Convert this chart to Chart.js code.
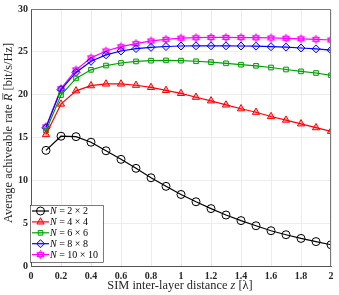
<!DOCTYPE html>
<html>
<head>
<meta charset="utf-8">
<script src="https://cdn.jsdelivr.net/npm/chart.js@4.4.0/dist/chart.umd.min.js"></script>
<style>
  html, body { margin: 0; padding: 0; background: #fff; }
  #wrap { width: 339px; height: 295px; }
</style>
</head>
<body>
<div id="wrap"><canvas id="chartRate"></canvas></div>
<script>
// layer distance z [lambda]
var zValues = [0.1, 0.2, 0.3, 0.4, 0.5, 0.6, 0.7, 0.8, 0.9, 1.0, 1.1, 1.2, 1.3, 1.4, 1.5, 1.6, 1.7, 1.8, 1.9, 2.0];

var rate2x2 = [13.5, 15.15, 15.1, 14.45, 13.45, 12.45, 11.4, 10.3, 9.3, 8.35, 7.5, 6.7, 5.95, 5.3, 4.7, 4.12, 3.65, 3.22, 2.85, 2.48];
var rate4x4 = [15.35, 18.9, 20.45, 21.05, 21.25, 21.25, 21.1, 20.85, 20.5, 20.15, 19.7, 19.28, 18.8, 18.36, 17.95, 17.45, 17.03, 16.6, 16.15, 15.72];
var rate6x6 = [15.8, 19.95, 21.9, 22.9, 23.4, 23.7, 23.88, 23.97, 24.0, 23.97, 23.9, 23.8, 23.66, 23.5, 23.37, 23.17, 22.94, 22.72, 22.53, 22.26];
var rate8x8 = [16.15, 20.6, 22.6, 23.9, 24.65, 25.1, 25.38, 25.52, 25.62, 25.68, 25.7, 25.7, 25.7, 25.68, 25.66, 25.6, 25.55, 25.45, 25.35, 25.2];
var rate10x10 = [16.25, 20.7, 22.9, 24.3, 25.1, 25.6, 25.96, 26.27, 26.46, 26.6, 26.65, 26.68, 26.68, 26.67, 26.65, 26.62, 26.58, 26.52, 26.46, 26.38];

var seriesNames = ['2 \u00d7 2', '4 \u00d7 4', '6 \u00d7 6', '8 \u00d7 8', '10 \u00d7 10'];

var yTicks = [0, 5, 10, 15, 20, 25, 30];
var xTicks = [0, 0.2, 0.4, 0.6, 0.8, 1, 1.2, 1.4, 1.6, 1.8, 2];

// hexagram marker (MATLAB 'h')
function makeHexagram(color) {
    var c = document.createElement('canvas');
    c.width = 11; c.height = 11;
    var g = c.getContext('2d');
    var cx = 5.5, cy = 5.5, r = 4.1;
    g.strokeStyle = color;
    g.fillStyle = 'rgba(255,0,255,0.12)';
    g.lineWidth = 1;
    for (var k = 0; k < 2; k++) {
        g.beginPath();
        for (var i = 0; i < 3; i++) {
            var a = -Math.PI / 2 + k * Math.PI + i * 2 * Math.PI / 3;
            var px = cx + r * Math.cos(a), py = cy + r * Math.sin(a);
            if (i === 0) g.moveTo(px, py); else g.lineTo(px, py);
        }
        g.closePath();
        g.fill();
        g.stroke();
    }
    return c;
}
var hexMarker = makeHexagram('#ff00ff');

function toPoints(ys) {
    var pts = [];
    for (var i = 0; i < ys.length; i++) {
        pts.push({ x: zValues[i], y: ys[i] });
    }
    return pts;
}

var serif = "'Liberation Serif', 'DejaVu Serif', serif";
var titleSize = 12.4;

// draw a run of [text, italic] pieces starting at x
function drawPieces(ctx, pieces, x, y, size) {
    var cx = x;
    var spots = [];
    for (var i = 0; i < pieces.length; i++) {
        ctx.font = (pieces[i][1] ? 'italic ' : '') + size + 'px ' + serif;
        ctx.fillText(pieces[i][0], cx, y);
        var w = ctx.measureText(pieces[i][0]).width;
        spots.push([cx, w]);
        cx += w;
    }
    return spots;
}
function piecesWidth(ctx, pieces, size) {
    var w = 0;
    for (var i = 0; i < pieces.length; i++) {
        ctx.font = (pieces[i][1] ? 'italic ' : '') + size + 'px ' + serif;
        w += ctx.measureText(pieces[i][0]).width;
    }
    return w;
}

// axis titles with italic symbols
const axisTitles = {
    id: 'axisTitles',
    afterDraw: function (chart) {
        var ctx = chart.ctx;
        var area = chart.chartArea;
        ctx.save();
        ctx.fillStyle = '#262626';
        ctx.textBaseline = 'middle';
        ctx.textAlign = 'left';

        var xp = [['SIM inter-layer distance ', false], ['z', true], [' [\u03bb]', false]];
        var xw = piecesWidth(ctx, xp, titleSize);
        drawPieces(ctx, xp, 180 - xw / 2, 285.5, titleSize);

        var yp = [['Average achiveable rate ', false], ['R', true], [' [bit/s/Hz]', false]];
        var yw = piecesWidth(ctx, yp, titleSize);
        ctx.translate(9, 133);
        ctx.rotate(-Math.PI / 2);
        var spots = drawPieces(ctx, yp, -yw / 2, 0, titleSize);
        // overline on R
        ctx.strokeStyle = '#262626';
        ctx.lineWidth = 0.7;
        ctx.beginPath();
        ctx.moveTo(spots[1][0] + 1.4, -6.2);
        ctx.lineTo(spots[1][0] + spots[1][1] + 0.6, -6.2);
        ctx.stroke();
        ctx.restore();
    }
};

// legend drawn inside the plot, lower left, like MATLAB
const insideLegend = {
    id: 'insideLegend',
    afterDraw: function (chart) {
        var ctx = chart.ctx;
        var area = chart.chartArea;
        var x0 = area.left - 1, y0 = 205, w = 73, h = 57;
        ctx.save();
        ctx.fillStyle = '#fff';
        ctx.fillRect(x0, y0, w, h);
        ctx.strokeStyle = '#262626';
        ctx.lineWidth = 0.6;
        ctx.strokeRect(x0 + 0.5, y0 + 0.5, w, h);
        var sets = chart.data.datasets;
        for (var i = 0; i < sets.length; i++) {
            var ds = sets[i];
            var cy = y0 + 6 + i * 10.9;
            ctx.strokeStyle = ds.borderColor;
            ctx.lineWidth = 1.2;
            ctx.beginPath();
            ctx.moveTo(x0 + 2, cy);
            ctx.lineTo(x0 + 19, cy);
            ctx.stroke();
            ctx.fillStyle = ds.pointBackgroundColor;
            ctx.strokeStyle = ds.borderColor;
            ctx.lineWidth = 1;
            Chart.helpers.drawPoint(ctx, {
                pointStyle: ds.pointStyle,
                radius: ds.pointRadius,
                rotation: 0,
                borderWidth: 1
            }, x0 + 10.5, cy);
            ctx.fillStyle = '#000';
            ctx.textBaseline = 'middle';
            ctx.textAlign = 'left';
            ctx.font = 'italic 10px ' + serif;
            ctx.fillText('N', x0 + 20, cy + 0.5);
            var nw = ctx.measureText('N').width;
            ctx.font = '10px ' + serif;
            ctx.fillText(' = ' + seriesNames[i], x0 + 20 + nw, cy + 0.5);
        }
        ctx.restore();
    }
};

const ctx = document.getElementById('chartRate').getContext('2d');

const colors = ['#000000', '#ff0000', '#00a000', '#0000ff', '#ff00ff'];
const fills = ['rgba(255,255,255,0)', 'rgba(255,0,0,0.3)', 'rgba(0,160,0,0.15)', 'rgba(0,0,255,0.1)', 'rgba(255,0,255,0.15)'];
const styles = ['circle', 'triangle', 'rect', 'rectRot', hexMarker];
const radii = [4, 4.2, 3.3, 4, 4.5];
const allRates = [rate2x2, rate4x4, rate6x6, rate8x8, rate10x10];

var datasets = [];
for (var i = 0; i < allRates.length; i++) {
    datasets.push({
        label: 'N = ' + seriesNames[i],
        data: toPoints(allRates[i]),
        borderColor: colors[i],
        backgroundColor: colors[i],
        pointBackgroundColor: fills[i],
        pointBorderColor: colors[i],
        pointStyle: styles[i],
        pointRadius: radii[i],
        pointBorderWidth: 1,
        borderWidth: 1.2,
        fill: false,
        tension: 0
    });
}

const myChart = new Chart(ctx, {
    type: 'line',
    data: { datasets: datasets },
    options: {
        responsive: true,
        maintainAspectRatio: false,
        animation: false,
        layout: { padding: { top: 4, right: 8, left: 0, bottom: 0 } },
        plugins: {
            legend: { display: false },
            tooltip: { enabled: false }
        },
        scales: {
            x: {
                type: 'linear',
                min: 0,
                max: 2,
                afterBuildTicks: function (scale) {
                    scale.ticks = xTicks.map(function (v) { return { value: v }; });
                },
                afterFit: function (scale) { scale.height = 29; },
                grid: { color: '#e8e8e8', lineWidth: 0.8, drawTicks: false },
                border: { color: '#555', width: 1 },
                ticks: {
                    color: '#262626',
                    padding: 4,
                    maxRotation: 0,
                    font: { family: serif, size: 10, weight: 'bold' },
                    callback: function (v) { return String(Math.round(v * 10) / 10); }
                }
            },
            y: {
                min: 0,
                max: 30,
                afterBuildTicks: function (scale) {
                    scale.ticks = yTicks.map(function (v) { return { value: v }; });
                },
                afterFit: function (scale) { scale.width = 31; },
                grid: { color: '#e8e8e8', lineWidth: 0.8, drawTicks: false },
                border: { color: '#555', width: 1 },
                ticks: {
                    color: '#262626',
                    padding: 3,
                    font: { family: serif, size: 10, weight: 'bold' }
                }
            }
        }
    },
    plugins: [insideLegend, axisTitles, {
        id: 'boxTopRight',
        afterDraw: function (chart) {
            var a = chart.chartArea, c = chart.ctx;
            c.save();
            c.strokeStyle = '#777';
            c.lineWidth = 1;
            c.beginPath();
            c.moveTo(a.left, a.top + 0.5);
            c.lineTo(a.right - 0.5, a.top + 0.5);
            c.lineTo(a.right - 0.5, a.bottom);
            c.stroke();
            c.restore();
        }
    }]
});
</script>
</body>
</html>
